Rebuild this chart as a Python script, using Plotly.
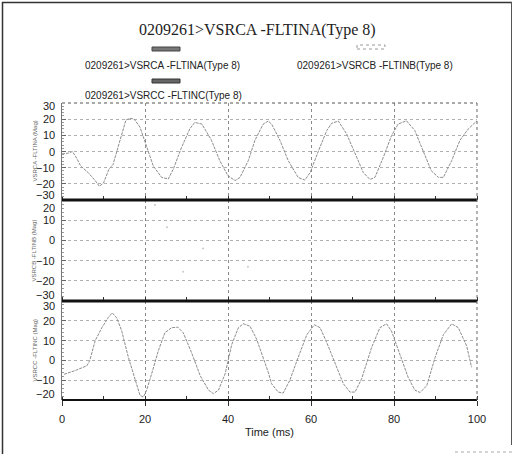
import plotly.graph_objects as go

W, H = 515, 456

# ---------------- data ----------------
title_text = "0209261>VSRCA -FLTINA(Type 8)"
series_names = ["0209261>VSRCA -FLTINA(Type 8)",
                "0209261>VSRCB -FLTINB(Type 8)",
                "0209261>VSRCC -FLTINC(Type 8)"]
axis_titles = ["VSRCA -FLTINA (Mag)", "VSRCB -FLTINB (Mag)", "VSRCC -FLTINC (Mag)"]

a_x = [0, 1.5, 2.5, 3.5, 4.5, 6.3, 8, 9, 10, 11.3, 12.3, 13.3, 14.4, 15.4, 16.4, 17.4,
       18.8, 20, 22, 24, 25.6, 26.8, 28.8, 30.8, 32, 33.7, 36, 38, 40, 41.7, 42.9, 44.9,
       46.5, 48.5, 49.7, 50.5, 52.5, 54.5, 56.9, 58.5, 59.8, 61.8, 63.8, 65, 66.6, 68.6,
       70.6, 72.6, 74.2, 75.4, 77.4, 79.4, 81, 83, 85, 87, 89, 90.7, 91.9, 93.9, 95.9,
       97.9, 100]
a_y = [-1.5, -1, 0, -4, -9, -13, -18, -21.5, -19.5, -11, -8, 1, 12, 19.5, 20.5, 20,
       15, 6, -9, -16, -17, -11, 2.5, 14, 18, 17, 7, -5.6, -15, -18, -16, -5.6,
       7, 17, 18.8, 17, 7, -5.6, -16, -17.7, -13, 0.4, 13, 17.5, 18.8, 10.8,
       -1.7, -13, -17.3, -16, -3.8, 9.8, 17, 19, 13, 0.4, -12, -16, -16, -5.6, 7,
       14, 19]

b_x = [22.4, 25.3, 29.2, 34, 44.8]
b_y = [17.5, 6.5, -15.5, -4, -13]

c_x = [0.5, 3.1, 6, 6.7, 8, 9.6, 11.2, 12.1, 13.2, 14.4, 16, 17.6, 18.8, 19.6, 20.4,
       21.6, 23.2, 24.8, 26.4, 27.9, 29.2, 31.2, 33.3, 35.3, 36.5, 37.7, 39.3, 40.9,
       42.5, 43.7, 45.3, 46.9, 48.5, 49.7, 50.5, 52.1, 53.3, 54.9, 56.9, 59, 60.8, 62.2,
       63.8, 65.8, 67.8, 69.4, 70.6, 72.2, 74.6, 76.6, 78.2, 79.4, 81.4, 83.4, 85, 86.3,
       87.9, 89.9, 91.9, 93.9, 95.5, 97.5, 98.7]
c_y = [-7, -5.2, -2.7, 0, 10, 16.5, 21.8, 24, 21.5, 14.8, 1.5, -10, -17.7, -18.5, -15,
       -6.8, 4.8, 14, 16.5, 16.8, 14, 4, -7.7, -15, -16.8, -15, -6.8, 8,
       16.5, 18.5, 17.3, 10.7, 1.5, -6, -11.8, -16, -16.5, -10, 1.5, 13, 18, 16.5,
       9, -1.8, -11.8, -16, -16, -9.3, 6.5, 16.5, 18.5, 14.8, 3, -8.5, -15, -16.2,
       -12.7, 1.5, 13, 18.5, 16.5, 7.3, -3.5]

x_ticks = [0, 20, 40, 60, 80, 100]
a_ticks = [30, 20, 10, 0, -10, -20, -30]
b_ticks = [20, 10, 0, -10, -20, -30]
c_ticks = [30, 20, 10, 0, -10, -20]
ranges = [[-30, 30], [-30, 20], [-20, 30]]

# ---------------- layout helpers ----------------
def px_x(p):
    return p / W

def px_y(p):
    return 1 - p / H

X0, X1 = 62, 477
panels_px = [(103, 200), (200, 301), (301, 400)]
edge_shift = [(-3, 5), (-8, 6), (-5, 6)]   # (top label shift, bottom label shift) in px

SANS = "Liberation Sans, Arial, sans-serif"
SERIF = "Liberation Serif, Times New Roman, serif"

fig = go.Figure()
line_style = dict(color="#8c8c8c", width=1, dash="3px,1px")
fig.add_trace(go.Scatter(x=a_x, y=a_y, mode="lines", line=line_style,
                         name=series_names[0], xaxis="x", yaxis="y"))
fig.add_trace(go.Scatter(x=b_x, y=b_y, mode="markers",
                         marker=dict(color="#c8c8c8", size=2),
                         name=series_names[1], xaxis="x2", yaxis="y2"))
fig.add_trace(go.Scatter(x=c_x, y=c_y, mode="lines", line=line_style,
                         name=series_names[2], xaxis="x3", yaxis="y3"))

layout = dict(width=W, height=H, autosize=False, margin=dict(l=0, r=0, t=0, b=0, pad=0),
              paper_bgcolor="white", plot_bgcolor="white", showlegend=False,
              font=dict(family=SANS, size=11, color="#222"))

tick_sets = [a_ticks, b_ticks, c_ticks]
annotations = []
shapes = []
for i, (top, bot) in enumerate(panels_px):
    sfx = "" if i == 0 else str(i + 1)
    last = i == 2
    layout["xaxis" + sfx] = dict(
        domain=[px_x(X0), px_x(X1)], range=[0, 100], anchor="y" + sfx, automargin=False,
        tickvals=x_ticks, showticklabels=last,
        ticks="outside" if last else "", ticklen=5, tickcolor="#333",
        ticklabelstandoff=4,
        showgrid=True, gridcolor="#8a8a8a", griddash="dot", gridwidth=1,
        zeroline=False, showline=False,
        minor=dict(dtick=10, tick0=0, ticks="inside", ticklen=4, tickcolor="#333", showgrid=False),
        tickfont=dict(family=SANS, size=11, color="#222"),
        title=dict(text="Time (ms)" if last else "", font=dict(family=SANS, size=11, color="#222"),
                   standoff=4),
    )
    layout["yaxis" + sfx] = dict(
        domain=[px_y(bot), px_y(top)], range=ranges[i], anchor="x" + sfx, automargin=False,
        tickvals=tick_sets[i], showticklabels=False,
        ticks="inside", ticklen=4, tickcolor="#666",
        showgrid=True, gridcolor="#b0b0b0", griddash="dot", gridwidth=1,
        zeroline=False, showline=True, linecolor="#777", linewidth=1,
        minor=dict(dtick=2, ticks="inside", ticklen=2, tickcolor="#999", showgrid=False),
    )
    yref = "y" + sfx
    for v in tick_sets[i]:
        shift = 0
        if v == ranges[i][1]:
            shift = edge_shift[i][0]
        elif v == ranges[i][0]:
            shift = edge_shift[i][1]
        annotations.append(dict(x=px_x(57), xref="paper", y=v, yref=yref,
                                text=str(v).replace("-", "\u2212"),
                                showarrow=False, xanchor="right", yanchor="middle", yshift=shift,
                                font=dict(family=SANS, size=11, color="#222")))
    annotations.append(dict(x=px_x(34), xref="paper", y=px_y((top + bot) / 2), yref="paper",
                            text=axis_titles[i], textangle=-90, showarrow=False,
                            xanchor="center", yanchor="middle",
                            font=dict(family=SANS, size=6, color="#666")))

# panel separators and borders
for yy, wdt in [(200, 3), (301, 3), (400, 2)]:
    shapes.append(dict(type="line", xref="paper", yref="paper", x0=px_x(X0), x1=px_x(X1),
                       y0=px_y(yy), y1=px_y(yy), line=dict(color="#111", width=wdt)))
shapes.append(dict(type="line", xref="paper", yref="paper", x0=px_x(X0), x1=px_x(X1),
                   y0=px_y(103), y1=px_y(103), line=dict(color="#555", width=1, dash="dot")))
shapes.append(dict(type="line", xref="paper", yref="paper", x0=px_x(X1), x1=px_x(X1),
                   y0=px_y(103), y1=px_y(400), line=dict(color="#666", width=1, dash="dot")))
# outer frame
shapes.append(dict(type="line", xref="paper", yref="paper", x0=px_x(2.5), x1=px_x(2.5),
                   y0=px_y(2), y1=px_y(454), line=dict(color="#333", width=1.5)))
shapes.append(dict(type="line", xref="paper", yref="paper", x0=px_x(2), x1=px_x(512),
                   y0=px_y(2.5), y1=px_y(2.5), line=dict(color="#333", width=1.5)))
shapes.append(dict(type="line", xref="paper", yref="paper", x0=px_x(511.5), x1=px_x(511.5),
                   y0=px_y(2), y1=px_y(445), line=dict(color="#555", width=1)))
shapes.append(dict(type="line", xref="paper", yref="paper", x0=px_x(455), x1=px_x(512),
                   y0=px_y(452), y1=px_y(452), line=dict(color="#aaa", width=1, dash="dot")))

# legend samples
shapes.append(dict(type="rect", xref="paper", yref="paper", x0=px_x(152), x1=px_x(180),
                   y0=px_y(51), y1=px_y(47), fillcolor="#777", line=dict(color="#444", width=1)))
shapes.append(dict(type="rect", xref="paper", yref="paper", x0=px_x(357), x1=px_x(385),
                   y0=px_y(49), y1=px_y(45), fillcolor="white", line=dict(color="#999", width=1, dash="dot")))
shapes.append(dict(type="rect", xref="paper", yref="paper", x0=px_x(152), x1=px_x(180),
                   y0=px_y(83), y1=px_y(79), fillcolor="#666", line=dict(color="#333", width=1)))

# title and legend texts
annotations.append(dict(x=px_x(257), y=px_y(30), xref="paper", yref="paper", text=title_text,
                        showarrow=False, xanchor="center", yanchor="middle",
                        font=dict(family=SERIF, size=16, color="#222")))
annotations.append(dict(x=px_x(83), y=px_y(65), xref="paper", yref="paper", text=series_names[0],
                        showarrow=False, xanchor="left", yanchor="middle",
                        font=dict(family=SANS, size=10, color="#222")))
annotations.append(dict(x=px_x(295), y=px_y(65), xref="paper", yref="paper", text=series_names[1],
                        showarrow=False, xanchor="left", yanchor="middle",
                        font=dict(family=SANS, size=10, color="#222")))
annotations.append(dict(x=px_x(83), y=px_y(95), xref="paper", yref="paper", text=series_names[2],
                        showarrow=False, xanchor="left", yanchor="middle",
                        font=dict(family=SANS, size=10, color="#222")))

layout["annotations"] = annotations
layout["shapes"] = shapes
fig.update_layout(**layout)
fig.write_html("out.html", config={"displayModeBar": False},
               post_script="document.body.style.margin='0';")
